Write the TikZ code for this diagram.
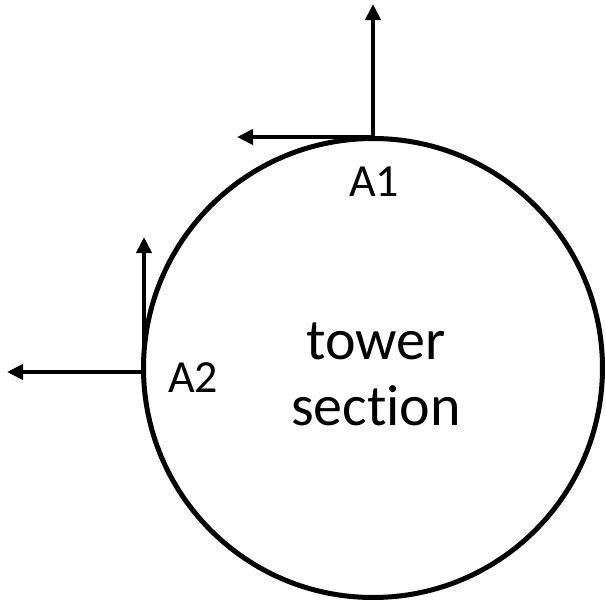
\documentclass[tikz,border=0pt]{standalone}
\usepackage{fontspec}
\setmainfont[RawFeature=-liga]{Carlito}
\usetikzlibrary{arrows.meta}
\tikzset{
  ax/.style={line width=3.8pt,-{Triangle[length=16pt,width=15pt]}},
  lbl/.style={font=\fontsize{46}{52}\selectfont, inner sep=0pt},
}
\begin{document}
\begin{tikzpicture}[x=1pt,y=-1pt]
\useasboundingbox (0,0) rectangle (606,600);
\node[circle, draw, line width=5pt, minimum size=459pt, inner sep=0pt] (c) at (373,368) {};
\coordinate (p1) at (373,138);
\coordinate (q1) at (374.9,137);
\coordinate (p2) at (144,372);
\coordinate (u1) at (373,4);
\coordinate (l1) at (237,137);
\coordinate (u2) at (144,237);
\coordinate (l2) at (7,372);
\draw[ax] (p1) -- (u1);
\draw[ax] (q1) -- (l1);
\draw[ax] (p2) -- (u2);
\draw[ax] (144,373.9) -- (144,372) -- (l2);
\node[lbl] (a1) at (374,182) {A1};
\node[lbl] (a2) at (193,378) {A2};
\node[font=\fontsize{58}{66}\selectfont, align=center, inner sep=0pt] (t) at (376,374) {tower\\section};
\end{tikzpicture}
\end{document}
